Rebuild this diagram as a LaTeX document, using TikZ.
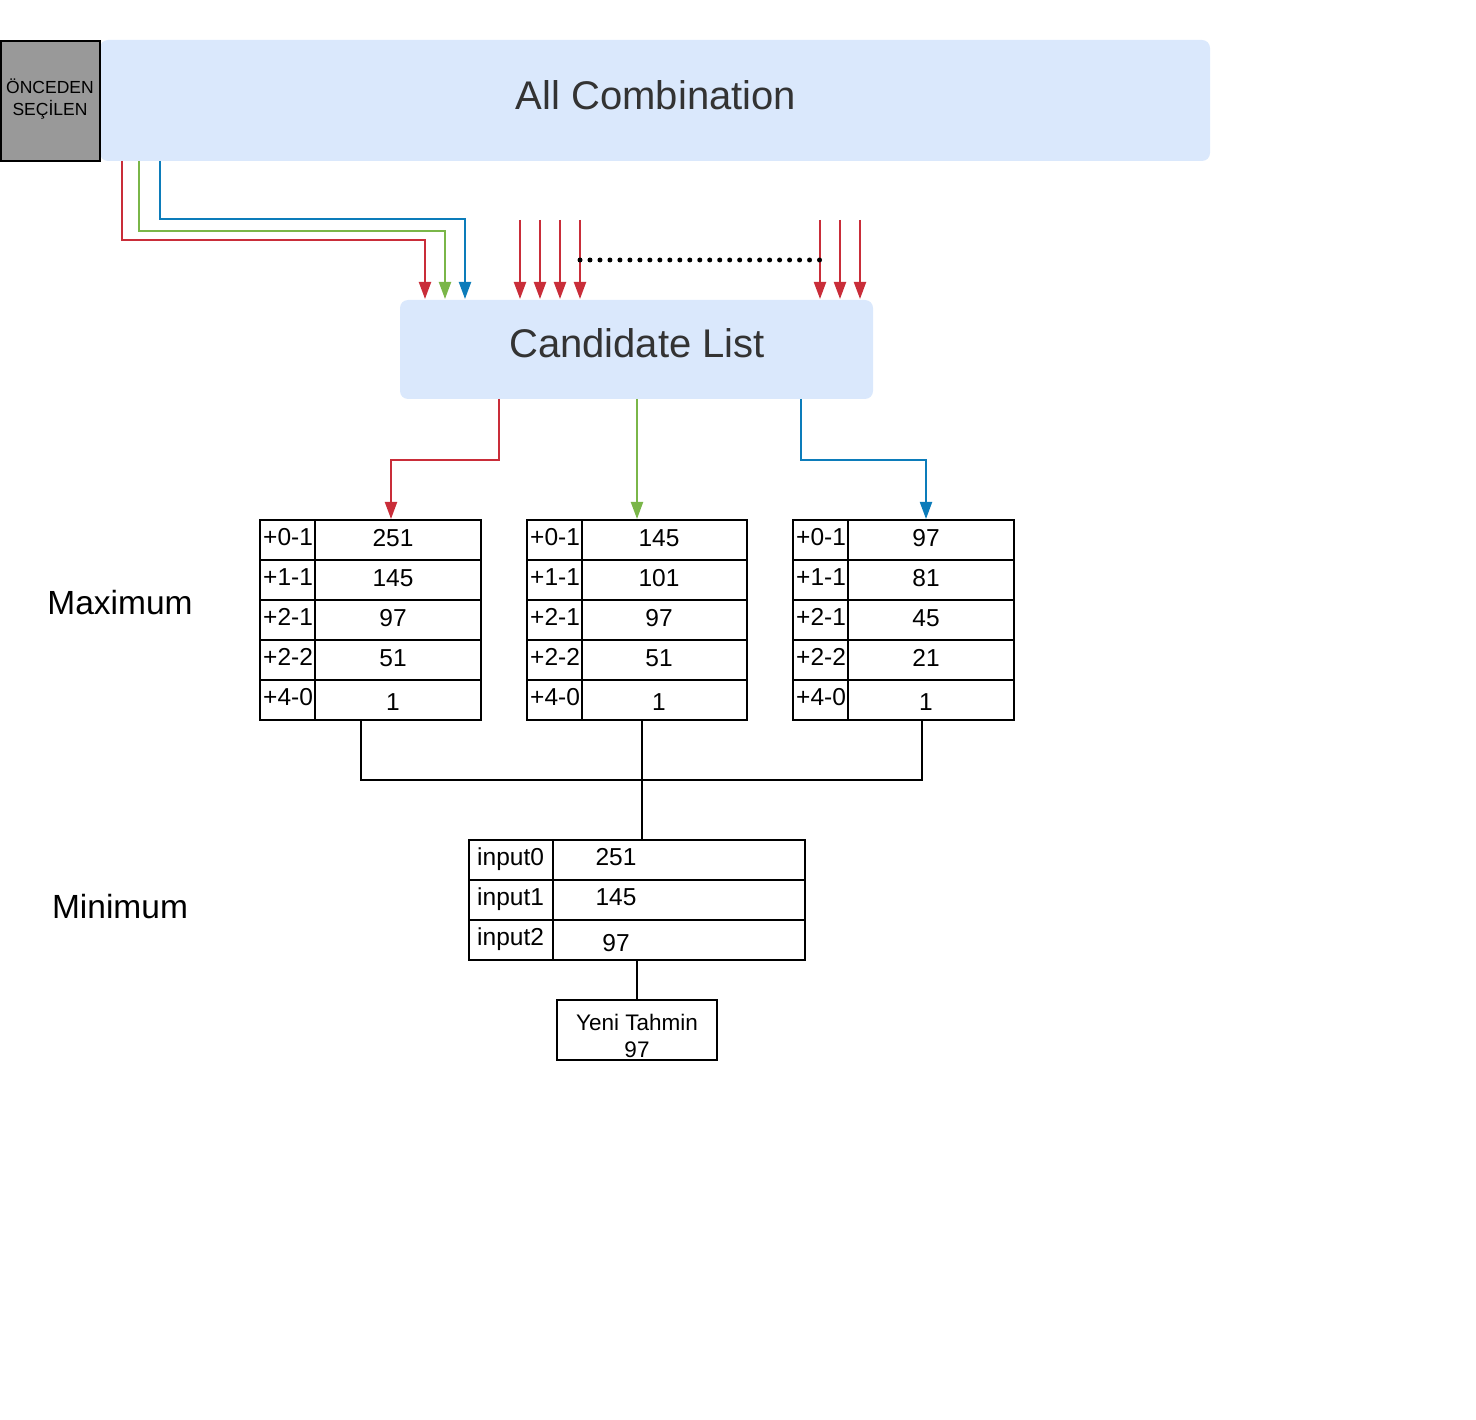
\documentclass[tikz,border=0pt]{standalone}
\usepackage{fontspec}
\setmainfont{Liberation Sans}
\usetikzlibrary{arrows.meta}
\definecolor{cred}{HTML}{C92D39}
\definecolor{cgreen}{HTML}{7AB648}
\definecolor{cblue}{HTML}{0C7CBA}
\definecolor{cfill}{HTML}{DAE8FC}
\definecolor{ctext}{HTML}{333333}
\definecolor{cgray}{HTML}{999999}
\begin{document}
\begin{tikzpicture}[x=1pt,y=-1pt,
  box/.style={anchor=north west, inner sep=0pt, outer sep=0pt},
  blue box/.style={box, fill=cfill, rounded corners=8pt},
  cell/.style={box, draw=black, line width=2pt, minimum height=40pt},
  tabtxt/.style={inner sep=0pt, font=\fontsize{24.5}{29}\selectfont},
  conn/.style={line width=2pt},
  arr/.style={line width=2pt, -{Triangle[length=17pt,width=12pt]}},
  bigtxt/.style={inner sep=0pt, text=ctext},
]
\useasboundingbox (0,0) rectangle (1476,1420);

% top boxes
\node[blue box, minimum width=1110pt, minimum height=121pt] (allc) at (100,40) {};
\node[bigtxt, font=\fontsize{40}{48}\selectfont] (allctxt) at (656,95) {All Combination};
\node[box, fill=cgray, draw=black, line width=2pt, minimum width=99pt, minimum height=120pt] (onc) at (1,41) {};
\node[inner sep=0pt, align=center, font=\fontsize{17.5}{22}\selectfont] (onctxt) at (50,99) {ÖNCEDEN\\SEÇİLEN};

\node[blue box, minimum width=473pt, minimum height=99pt] (cand) at (400,300) {};
\node[bigtxt, font=\fontsize{40}{48}\selectfont] (candtxt) at (637,343) {Candidate List};

% arrows from All Combination
\coordinate (sr) at (122,161);
\coordinate (sg) at (139,161);
\coordinate (sb) at (160,161);
\coordinate (er) at (425,299);
\coordinate (eg) at (445,299);
\coordinate (eb) at (465,299);
\draw[arr, cred] (sr) |- (425,240) -- (er);
\draw[arr, cgreen] (sg) |- (445,231) -- (eg);
\draw[arr, cblue] (sb) |- (465,219) -- (eb);

% incoming red arrows
\foreach \xx [count=\k] in {520,540,560,580,820,840,860} {
  \coordinate (in\k) at (\xx,220);
  \coordinate (it\k) at (\xx,299);
  \draw[arr, cred] (in\k) -- (it\k);
}
\coordinate (dots0) at (580,260);
\coordinate (dots1) at (820.5,260);
\draw[line width=5pt, line cap=round, dash pattern=on 0pt off 9.98pt] (dots0) -- (dots1);

% tables
\foreach \i/\la/\va/\vb/\vc/\dy in {1/+0-1/251/145/97/-2, 2/+1-1/145/101/81/-2, 3/+2-1/97/97/45/-2, 4/+2-2/51/51/21/-2, 5/+4-0/1/1/1/2} {
  \node[cell, minimum width=55pt] (ta\i l) at (260,480+40*\i) {};
  \node[cell, minimum width=166pt] (ta\i v) at (315,480+40*\i) {};
  \node[tabtxt, anchor=west] (ta\i lt) at (263,497+40*\i) {\la};
  \node[tabtxt] (ta\i vt) at (393,500+40*\i+\dy) {\va};
  \node[cell, minimum width=55pt] (tb\i l) at (527,480+40*\i) {};
  \node[cell, minimum width=165pt] (tb\i v) at (582,480+40*\i) {};
  \node[tabtxt, anchor=west] (tb\i lt) at (530,497+40*\i) {\la};
  \node[tabtxt] (tb\i vt) at (659,500+40*\i+\dy) {\vb};
  \node[cell, minimum width=55pt] (tc\i l) at (793,480+40*\i) {};
  \node[cell, minimum width=166pt] (tc\i v) at (848,480+40*\i) {};
  \node[tabtxt, anchor=west] (tc\i lt) at (796,497+40*\i) {\la};
  \node[tabtxt] (tc\i vt) at (926,500+40*\i+\dy) {\vc};
}

% arrows from candidate list to tables
\coordinate (cr) at (499,399);
\coordinate (cg) at (637,399);
\coordinate (cb) at (801,399);
\coordinate (tr) at (391,519);
\coordinate (tg) at (637,519);
\coordinate (tb) at (926,519);
\draw[arr, cred] (cr) -- (499,460) -| (tr);
\draw[arr, cgreen] (cg) -- (tg);
\draw[arr, cblue] (cb) -- (801,460) -| (tb);

% minimum table
\foreach \i/\la/\va/\dy in {0/input0/251/0, 1/input1/145/0, 2/input2/97/6} {
  \node[cell, minimum width=84pt] (m\i l) at (469,840+40*\i) {};
  \node[cell, minimum width=252pt] (m\i v) at (553,840+40*\i) {};
  \node[tabtxt, anchor=west] (m\i lt) at (477,859+40*\i) {\la};
  \node[tabtxt] (m\i vt) at (616,857+40*\i+\dy) {\va};
}

% connectors tables -> minimum
\coordinate (b1) at (361,720);
\coordinate (b2) at (642,720);
\coordinate (b3) at (922,720);
\coordinate (mt) at (642,840);
\draw[conn] (b1) -- (361,780) -- (922,780) -- (b3);
\draw[conn] (b2) -- (mt);

% result
\node[box, draw=black, line width=2pt, minimum width=160pt, minimum height=60pt] (yeni) at (557,1000) {};
\node[inner sep=0pt, align=center, font=\fontsize{22.5}{27}\selectfont] (yenitxt) at (637,1036) {Yeni Tahmin\\97};
\coordinate (mb) at (637,960);
\draw[conn] (mb) -- (yeni.north);

% side labels
\node[inner sep=0pt, font=\fontsize{33.5}{40}\selectfont] (maxl) at (120,603) {Maximum};
\node[inner sep=0pt, font=\fontsize{33.5}{40}\selectfont] (minl) at (120,907) {Minimum};
\end{tikzpicture}
\end{document}
